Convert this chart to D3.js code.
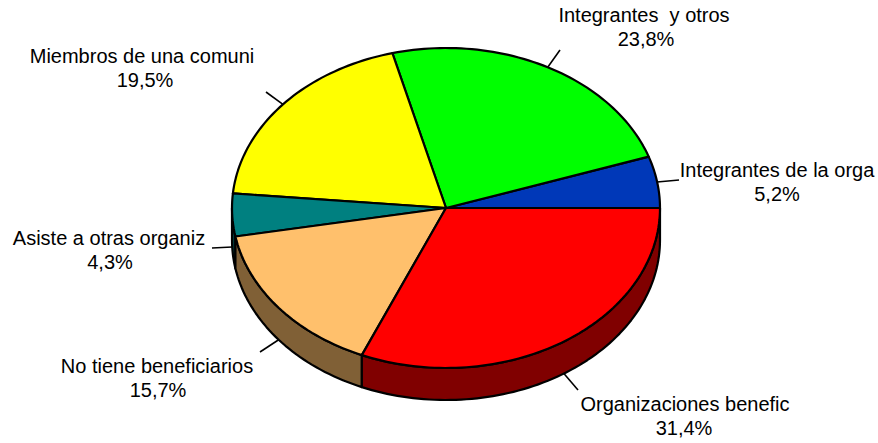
<!DOCTYPE html>
<html><head><meta charset="utf-8">
<script src="https://cdn.jsdelivr.net/npm/d3@7/dist/d3.min.js"></script>
<style>html,body{margin:0;padding:0;background:#fff}svg{display:block}
text{font-family:"Liberation Sans",Arial,sans-serif;font-size:20px;fill:#000;white-space:pre}</style>
</head><body><svg id="c" width="878" height="443"></svg>
<script>
const categories = ["Integrantes de la orga","Integrantes  y otros","Miembros de una comuni","Asiste a otras organiz","No tiene beneficiarios","Organizaciones benefic"];
const values = [5.2,23.8,19.5,4.3,15.7,31.4];
const valueLabels = ["5,2%","23,8%","19,5%","4,3%","15,7%","31,4%"];
const topColors = ["#0038b8","#00ff00","#ffff00","#008080","#ffc06c","#ff0000"];
const sideColors = ["#001c5c","#008000","#808000","#004040","#806036","#800000"];
// label layout: leader end, centres of the two text lines, first baseline
const leaderEnds = [[679,180],[560,50],[266,92],[212,248],[260,352],[578,390]];
const labelCx = [777,644,142,109,157,685];
const valueCx = [777,646,145,110,158,684];
const labelY = [177,22,63,245,373,411];

const cx=446, cy=208, rx=214, ry=160, depth=32;
const svg=d3.select("#c");
const pie=d3.pie().sort(null).value(d=>d).startAngle(0).endAngle(2*Math.PI);
const arcs=pie(values);
const px=d3.scaleLinear().domain([-1,1]).range([cx-rx,cx+rx]);
const py=d3.scaleLinear().domain([-1,1]).range([cy+ry,cy-ry]);
// pie angle runs counter-clockwise from the 3 o'clock direction
const pt=(a,dy=0)=>[px(Math.cos(a)),py(Math.sin(a))+dy];
const samples=(a0,a1)=>d3.range(0,1.0001,1/Math.max(2,Math.ceil((a1-a0)*40))).map(t=>a0+(a1-a0)*t);
const line=d3.line();

// side wall (only the front half of the ellipse, pi..2pi)
arcs.forEach((d,i)=>{
  const a0=Math.max(d.startAngle,Math.PI), a1=d.endAngle;
  if(a1<=a0) return;
  const s=samples(a0,a1);
  const poly=s.map(a=>pt(a)).concat(s.slice().reverse().map(a=>pt(a,depth)));
  svg.append("path").attr("d",line(poly)+"Z").attr("fill",sideColors[i])
    .attr("stroke","#000").attr("stroke-width",2.2).attr("stroke-linejoin","round");
});
// top faces
arcs.forEach((d,i)=>{
  const poly=[[cx,cy]].concat(samples(d.startAngle,d.endAngle).map(a=>pt(a)));
  svg.append("path").attr("d",line(poly)+"Z").attr("fill",topColors[i])
    .attr("stroke","#000").attr("stroke-width",2.2).attr("stroke-linejoin","round");
});
// leaders and labels
arcs.forEach((d,i)=>{
  const m=(d.startAngle+d.endAngle)/2;
  const st=pt(m, m>Math.PI?depth:0);
  svg.append("line").attr("x1",st[0]).attr("y1",st[1]).attr("x2",leaderEnds[i][0]).attr("y2",leaderEnds[i][1])
    .attr("stroke","#000").attr("stroke-width",1.6);
  const t=svg.append("text").attr("text-anchor","middle");
  t.append("tspan").attr("x",labelCx[i]).attr("y",labelY[i]).text(categories[i]);
  t.append("tspan").attr("x",valueCx[i]).attr("y",labelY[i]+24).text(valueLabels[i]);
});
</script></body></html>
